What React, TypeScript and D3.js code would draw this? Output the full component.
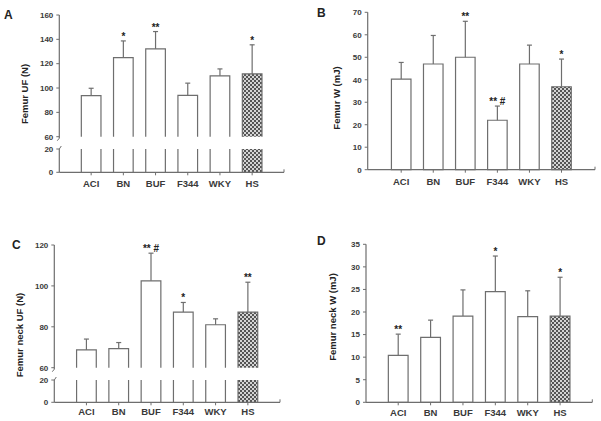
import React from "react";
import * as d3 from "d3";

const categories = ["ACI", "BN", "BUF", "F344", "WKY", "HS"];

const femurUF = [93.7, 125, 132.2, 94, 110, 111.6];
const femurUFErr = [6.1, 13.7, 14.2, 10, 5.7, 23.9];
const femurUFSig = ["", "*", "**", "", "", "*"];

const femurW = [40.3, 47, 50, 22, 47, 36.9];
const femurWErr = [7.4, 12.7, 16, 6.3, 8.4, 12.3];
const femurWSig = ["", "", "**", "** #", "", "*"];

const neckUF = [68.7, 69.3, 102.5, 87.2, 81, 87.2];
const neckUFErr = [5.3, 3, 13.5, 4.7, 2.9, 14.6];
const neckUFSig = ["", "", "** #", "*", "", "**"];

const neckW = [10.4, 14.4, 19.1, 24.5, 19, 19.1];
const neckWErr = [4.7, 3.8, 5.8, 7.9, 5.7, 8.6];
const neckWSig = ["**", "", "", "*", "", "*"];

const ticksA = [60, 80, 100, 120, 140, 160];
const ticksALow = [0, 20];
const ticksB = [0, 10, 20, 30, 40, 50, 60, 70];
const ticksC = [60, 80, 100, 120];
const ticksCLow = [0, 20];
const ticksD = [0, 5, 10, 15, 20, 25, 30, 35];

const FONT = "'Liberation Sans', Arial, sans-serif";
const LINE = "#6e6e6e";
const TEXT = "#3a3a3a";
const HATCH = "hs-pattern";

type PanelProps = {
  letter: string;
  letterPos: [number, number];
  title: string;
  titlePos: [number, number];
  values: number[];
  errs: number[];
  sig: string[];
  upDomain: [number, number];
  upRange: [number, number];
  upTicks: number[];
  lowDomain?: [number, number];
  lowRange?: [number, number];
  lowTicks?: number[];
  xRange: [number, number];
  padOuter: number;
  labelY: number;
};

function Panel(p: PanelProps) {
  const x = d3
    .scaleBand<string>()
    .domain(categories)
    .range(p.xRange)
    .paddingInner(0.39)
    .paddingOuter(p.padOuter);
  const yU = d3.scaleLinear().domain(p.upDomain).range(p.upRange);
  const broken = !!p.lowDomain;
  const yL = broken ? d3.scaleLinear().domain(p.lowDomain!).range(p.lowRange!) : yU;
  const axisX = p.xRange[0];
  const baseY = broken ? yL(p.lowDomain![0]) : yU(p.upDomain[0]);
  const upBottom = yU(p.upDomain[0]);
  const bw = x.bandwidth();

  const yTickLabel = (v: number, y: number, key: string) => (
    <g key={key}>
      <line x1={axisX - 3} x2={axisX} y1={y} y2={y} stroke={LINE} strokeWidth={1} />
      <text
        x={axisX - 6}
        y={y}
        dy="0.35em"
        textAnchor="end"
        fontSize={8}
        fontWeight="bold"
        fill={TEXT}
        fontFamily={FONT}
      >
        {v}
      </text>
    </g>
  );

  return (
    <g>
      <text x={p.letterPos[0]} y={p.letterPos[1]} fontSize={12} fontWeight="bold" fill="#222" fontFamily={FONT}>
        {p.letter}
      </text>
      <text
        transform={`translate(${p.titlePos[0]},${p.titlePos[1]}) rotate(-90)`}
        textAnchor="middle"
        fontSize={9.5}
        fontWeight="bold"
        fill="#222"
        fontFamily={FONT}
      >
        {p.title}
      </text>

      {categories.map((c, i) => {
        const x0 = x(c)!;
        const x1 = x0 + bw;
        const v = p.values[i];
        const yt = yU(v);
        const yBottomUpper = broken ? upBottom : baseY;
        const isHS = c === "HS";
        const yErr = yU(v + p.errs[i]);
        return (
          <g key={c}>
            <rect
              x={x0}
              y={yt}
              width={bw}
              height={yBottomUpper - yt}
              fill={isHS ? `url(#${HATCH})` : "#fff"}
              stroke="none"
            />
            <path
              d={`M${x0},${yBottomUpper}V${yt}H${x1}V${yBottomUpper}${broken ? "" : "Z"}`}
              fill="none"
              stroke={LINE}
              strokeWidth={1.2}
            />
            {broken && (
              <g>
                <rect
                  x={x0}
                  y={yL(p.lowDomain![1])}
                  width={bw}
                  height={baseY - yL(p.lowDomain![1])}
                  fill={isHS ? `url(#${HATCH})` : "#fff"}
                />
                <line x1={x0} x2={x0} y1={yL(p.lowDomain![1])} y2={baseY} stroke={LINE} strokeWidth={1.2} />
                <line x1={x1} x2={x1} y1={yL(p.lowDomain![1])} y2={baseY} stroke={LINE} strokeWidth={1.2} />
              </g>
            )}
            <line x1={x0 + bw / 2} x2={x0 + bw / 2} y1={yt} y2={yErr} stroke={LINE} strokeWidth={1.2} />
            <line x1={x0 + bw / 2 - 2.5} x2={x0 + bw / 2 + 2.5} y1={yErr} y2={yErr} stroke={LINE} strokeWidth={1.2} />
            {p.sig[i] && (
              <text
                x={x0 + bw / 2}
                y={yErr - 1}
                textAnchor="middle"
                fontSize={10}
                fontWeight="bold"
                fill="#222"
                fontFamily={FONT}
              >
                {p.sig[i]}
              </text>
            )}
            <line x1={x0 + bw / 2} x2={x0 + bw / 2} y1={baseY} y2={baseY + 3} stroke={LINE} strokeWidth={1} />
            <text
              x={x0 + bw / 2}
              y={p.labelY}
              textAnchor="middle"
              fontSize={9.5}
              fontWeight="bold"
              fill={TEXT}
              fontFamily={FONT}
            >
              {c}
            </text>
          </g>
        );
      })}

      <line x1={axisX} x2={p.xRange[1]} y1={baseY} y2={baseY} stroke={LINE} strokeWidth={1.2} />
      <line x1={p.xRange[1]} x2={p.xRange[1]} y1={baseY} y2={baseY - 3} stroke={LINE} strokeWidth={1} />
      {broken ? (
        <g>
          <line x1={axisX} x2={axisX} y1={baseY} y2={yL(p.lowDomain![1])} stroke={LINE} strokeWidth={1.2} />
          <line x1={axisX} x2={axisX} y1={upBottom + 1.5} y2={yU(p.upDomain[1])} stroke={LINE} strokeWidth={1.2} />
          <line x1={axisX} x2={axisX - 2} y1={upBottom + 1.5} y2={upBottom + 4} stroke={LINE} strokeWidth={1} />
          <line
            x1={axisX}
            x2={axisX + 2}
            y1={yL(p.lowDomain![1])}
            y2={yL(p.lowDomain![1]) - 3}
            stroke={LINE}
            strokeWidth={1}
          />
          {p.lowTicks!.map((t) => yTickLabel(t, yL(t), "l" + t))}
        </g>
      ) : (
        <line x1={axisX} x2={axisX} y1={baseY} y2={yU(p.upDomain[1])} stroke={LINE} strokeWidth={1.2} />
      )}
      {p.upTicks.map((t) => yTickLabel(t, yU(t), "u" + t))}
    </g>
  );
}

export default function App() {
  return (
    <svg width={601} height={421} style={{ position: "absolute", left: 0, top: 0, background: "#fff" }}>
      <defs>
        <pattern id={HATCH} width={4} height={4} patternUnits="userSpaceOnUse">
          <rect width={4} height={4} fill="#555" />
          <circle cx={1} cy={1} r={1} fill="#fff" />
          <circle cx={3} cy={3} r={1} fill="#fff" />
        </pattern>
      </defs>
      <rect width={601} height={421} fill="#fff" />
      <Panel
        letter="A"
        letterPos={[4, 19]}
        title="Femur UF (N)"
        titlePos={[28, 94]}
        values={femurUF}
        errs={femurUFErr}
        sig={femurUFSig}
        upDomain={[60, 160]}
        upRange={[136.7, 15]}
        upTicks={ticksA}
        lowDomain={[0, 20]}
        lowRange={[172.3, 149]}
        lowTicks={ticksALow}
        xRange={[59.3, 284]}
        padOuter={0.684}
        labelY={187}
      />
      <Panel
        letter="B"
        letterPos={[317, 17]}
        title="Femur W (mJ)"
        titlePos={[340, 98]}
        values={femurW}
        errs={femurWErr}
        sig={femurWSig}
        upDomain={[0, 70]}
        upRange={[169.7, 12.3]}
        upTicks={ticksB}
        xRange={[367.7, 595]}
        padOuter={0.74}
        labelY={185}
      />
      <Panel
        letter="C"
        letterPos={[12, 249]}
        title="Femur neck UF (N)"
        titlePos={[23, 335]}
        values={neckUF}
        errs={neckUFErr}
        sig={neckUFSig}
        upDomain={[60, 120]}
        upRange={[367.7, 245]}
        upTicks={ticksC}
        lowDomain={[0, 20]}
        lowRange={[402.3, 380]}
        lowTicks={ticksCLow}
        xRange={[54.3, 280]}
        padOuter={0.69}
        labelY={415}
      />
      <Panel
        letter="D"
        letterPos={[317, 245]}
        title="Femur neck W (mJ)"
        titlePos={[336, 317]}
        values={neckW}
        errs={neckWErr}
        sig={neckWSig}
        upDomain={[0, 35]}
        upRange={[402.3, 244.3]}
        upTicks={ticksD}
        xRange={[366, 592.3]}
        padOuter={0.69}
        labelY={416}
      />
    </svg>
  );
}
